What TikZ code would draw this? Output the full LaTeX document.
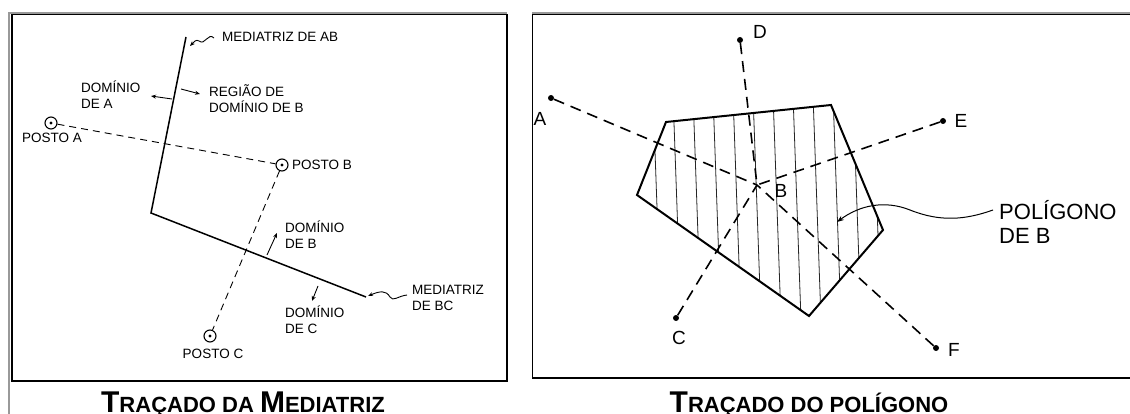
\documentclass[tikz,border=0pt]{standalone}
\usepackage{fontspec}
\setmainfont{Liberation Sans}
\usetikzlibrary{arrows.meta}
\tikzset{
  frameouter/.style={draw=gray!80, line width=2pt},
  frameinner/.style={draw=black, line width=1.1pt},
  medline/.style={draw=black, line width=1.5pt},
  dashA/.style={draw=black, line width=0.9pt, dash pattern=on 7pt off 5pt},
  dashB/.style={draw=black, line width=1.6pt, dash pattern=on 11pt off 7pt},
  posto/.style={circle, draw=black, line width=1.1pt, minimum size=12pt, inner sep=0pt,
     path picture={\fill[black] (path picture bounding box.center) circle (1.7pt);}},
  pt/.style={circle, fill=black, minimum size=6pt, inner sep=0pt},
  lbl/.style={font=\fontsize{13.5}{16}\selectfont, inner sep=0pt, align=left},
  biglbl/.style={font=\fontsize{19}{23}\selectfont, inner sep=0pt},
  poly/.style={draw=black, line width=2pt, line join=miter},
  hatch/.style={draw=black!85, line width=0.8pt},
  smallarr/.style={draw=black, line width=0.9pt, -{Stealth[length=5pt,width=4pt]}},
  wavyarr/.style={draw=black, line width=1pt, -{Stealth[length=7pt,width=5pt]}},
  title/.style={inner sep=0pt, anchor=base, font=\bfseries}
}
\begin{document}
\begin{tikzpicture}[x=1pt,y=-1pt]
\useasboundingbox (0,0) rectangle (1130,414);
\fill[white] (0,0) rectangle (1130,414);
% outer table lines
\draw[frameouter] (8.5,414) -- (8.5,13) -- (507,13);
\draw[frameouter] (532,13) -- (1130,13);
% left panel frame
\draw[frameinner] (12,14.5) rectangle (507,381);
% right panel frame
\draw[frameinner] (1130,14.5) -- (532.5,14.5) -- (532.5,378) -- (1130,378);

% ===== LEFT PANEL =====
\coordinate (m1) at (186,37);
\coordinate (m2) at (151,213);
\coordinate (m3) at (366,297);
\draw[medline] (m1) -- (m2) -- (m3);

\node[posto] (pA) at (51,123) {};
\node[posto] (pB) at (282,165) {};
\node[posto] (pC) at (210,336) {};
\draw[dashA] (pA) -- (pB);
\draw[dashA] (pB) -- (pC);

\node[lbl, anchor=west] (lA) at (22,138) {POSTO A};
\node[lbl, anchor=west] (lB) at (292,165) {POSTO B};
\node[lbl, anchor=center] (lC) at (213,354) {POSTO C};

\node[lbl, anchor=west] (tAB) at (222,37) {MEDIATRIZ DE AB};
\coordinate (wAB) at (214,38);
\draw[wavyarr, line width=0.9pt, -{Stealth[length=5pt,width=4pt]}] (wAB) .. controls (208,32) and (205,46) .. (199,41) .. controls (196,39) and (194,42) .. (190,46);

\node[lbl, anchor=west] (dA) at (81,95) {DOMÍNIO\\DE A};
\coordinate (aA1) at (172,99);
\coordinate (aA2) at (151,96);
\draw[smallarr] (aA1) -- (aA2);

\node[lbl, anchor=west] (rB) at (209,99) {REGIÃO DE\\DOMÍNIO DE B};
\coordinate (aR1) at (181,89);
\coordinate (aR2) at (200,94);
\draw[smallarr] (aR1) -- (aR2);

\node[lbl, anchor=west] (dB) at (285,235) {DOMÍNIO\\DE B};
\coordinate (aB1) at (267,255);
\coordinate (aB2) at (277,233);
\draw[smallarr] (aB1) -- (aB2);

\node[lbl, anchor=west] (dC) at (285,320) {DOMÍNIO\\DE C};
\coordinate (aC1) at (318,286);
\coordinate (aC2) at (312,301);
\draw[smallarr] (aC1) -- (aC2);

\node[lbl, anchor=west] (tBC) at (412,298) {MEDIATRIZ\\DE BC};
\coordinate (wBC) at (407,295);
\draw[wavyarr, line width=0.9pt, -{Stealth[length=5pt,width=4pt]}] (wBC) .. controls (398,296) and (393,302) .. (390,297) .. controls (386,290) and (380,291) .. (368,296);

% ===== RIGHT PANEL =====
\coordinate (P1) at (666,122);
\coordinate (P2) at (831,105);
\coordinate (P3) at (883,230);
\coordinate (P4) at (809,316);
\coordinate (P5) at (637,195);
\begin{scope}
\clip (P1) -- (P2) -- (P3) -- (P4) -- (P5) -- cycle;
\foreach \hx in {653,673,693,713,733,753,773,793,813,833,853,873}
  \draw[hatch] (\hx,95) -- (\hx+8,320);
\end{scope}

\coordinate (B) at (757,185);
\node[pt] (A) at (551,98) {};
\node[pt] (D) at (740,40) {};
\node[pt] (E) at (943,121) {};
\node[pt] (F) at (936,348) {};
\node[pt] (C) at (676,318) {};
\draw[dashB] (A) -- (B);
\draw[dashB] (D) -- (B);
\draw[dashB] (E) -- (B);
\draw[dashB] (F) -- (B);
\draw[dashB] (C) -- (B);
\draw[poly] (P1) -- (P2) -- (P3) -- (P4) -- (P5) -- cycle;

\node[biglbl] (lDD) at (760,32) {D};
\node[biglbl] (lEE) at (961,121) {E};
\node[biglbl] (lFF) at (954,350) {F};
\node[biglbl] (lCC) at (679,338) {C};
\node[biglbl] (lAA) at (540,119) {A};
\node[biglbl] (lBB) at (781,191) {B};

\node[inner sep=0pt, anchor=west, align=left, font=\fontsize{22}{24}\selectfont] (pol) at (999,222) {POLÍGONO\\DE B};
\coordinate (wP) at (993,210);
\draw[wavyarr] (wP) .. controls (965,220) and (940,222) .. (910,210) .. controls (885,200) and (860,205) .. (837,222);

% ===== TITLES =====
\node[title] (t1) at (243,412) {{\fontsize{30}{30}\selectfont T}{\fontsize{22}{22}\selectfont RAÇADO DA }{\fontsize{30}{30}\selectfont M}{\fontsize{22}{22}\selectfont EDIATRIZ}};
\node[title] (t2) at (809,412) {{\fontsize{30}{30}\selectfont T}{\fontsize{22}{22}\selectfont RAÇADO DO POLÍGONO}};
\end{tikzpicture}
\end{document}
